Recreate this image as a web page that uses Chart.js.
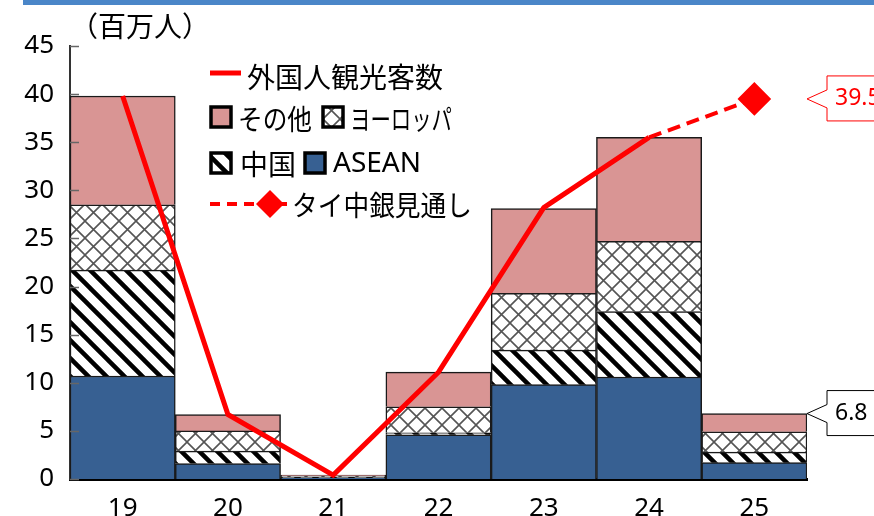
<!DOCTYPE html>
<html lang="ja">
<head>
<meta charset="UTF-8">
<title>タイ 外国人観光客数</title>
<style>
  body { margin: 0; background: #fff; }
  #wrap { width: 874px; height: 516px; }
</style>
</head>
<body>
<div id="wrap"><canvas id="myChart" width="874" height="516"></canvas></div>
<script src="https://cdn.jsdelivr.net/npm/chart.js"></script>
<script>
// 年（下2桁）
const years = ['19', '20', '21', '22', '23', '24', '25'];
// 国・地域別の内訳（百万人）
const asean  = [10.7, 1.6, 0.15, 4.6, 9.8, 10.6, 1.7];
const china  = [11.0, 1.3, 0.05, 0.2, 3.6, 6.8, 1.1];
const europe = [6.8, 2.1, 0.1, 2.7, 5.9, 7.3, 2.1];
const others = [11.3, 1.7, 0.1, 3.6, 8.8, 10.8, 1.9];
// 外国人観光客数（実績）
const arrivals = [39.8, 6.7, 0.4, 11.1, 28.2, 35.5, null];
// タイ中銀見通し
const forecast = [null, null, null, null, null, 35.5, 39.5];
// 縦軸の目盛り
const yTicks = [0, 5, 10, 15, 20, 25, 30, 35, 40, 45];

const RED = '#ff0000';
const BLUE = '#376092';
const PINK = '#d99594';
const JP = '"Noto Sans CJK JP", sans-serif';
const NUM = '"Noto Sans", sans-serif';

// 中国：右下がりの太い斜線
function stripePattern() {
    const s = 18;
    const c = document.createElement('canvas');
    c.width = s; c.height = s;
    const g = c.getContext('2d');
    g.fillStyle = '#fff';
    g.fillRect(0, 0, s, s);
    g.strokeStyle = '#000';
    g.lineWidth = 4.5;
    g.beginPath();
    for (let k = -1; k <= 1; k++) {
        g.moveTo(k * s - s, -s);
        g.lineTo(k * s + 2 * s, 2 * s);
    }
    g.stroke();
    return g.createPattern(c, 'repeat');
}

// ヨーロッパ：斜め格子
function crossPattern() {
    const s = 17;
    const c = document.createElement('canvas');
    c.width = s; c.height = s;
    const g = c.getContext('2d');
    g.fillStyle = '#fff';
    g.fillRect(0, 0, s, s);
    g.strokeStyle = '#555';
    g.lineWidth = 1.6;
    g.beginPath();
    g.moveTo(0, 0); g.lineTo(s, s);
    g.moveTo(s, 0); g.lineTo(0, s);
    g.stroke();
    return g.createPattern(c, 'repeat');
}

const chinaFill = stripePattern();
const europeFill = crossPattern();

function swatch(ctx, x, y, fill) {
    ctx.fillStyle = fill;
    ctx.fillRect(x, y, 20, 20);
    ctx.strokeStyle = '#000';
    ctx.lineWidth = 3.5;
    ctx.strokeRect(x, y, 20, 20);
}

function callout(ctx, yv, text, color) {
    const tip = 807, left = 827;
    ctx.beginPath();
    ctx.moveTo(tip, yv);
    ctx.lineTo(left, yv - 9);
    ctx.lineTo(left, yv - 23);
    ctx.lineTo(880, yv - 23);
    ctx.lineTo(880, yv + 22);
    ctx.lineTo(left, yv + 22);
    ctx.lineTo(left, yv + 9);
    ctx.closePath();
    ctx.fillStyle = '#fff';
    ctx.fill();
    ctx.strokeStyle = color;
    ctx.lineWidth = 1;
    ctx.stroke();
    ctx.fillStyle = color;
    ctx.font = '23px ' + NUM;
    ctx.textAlign = 'left';
    ctx.textBaseline = 'middle';
    ctx.fillText(text, 835, yv);
}

const extras = {
    id: 'extras',
    beforeDraw(chart) {
        const ctx = chart.ctx;
        ctx.save();
        ctx.fillStyle = '#4a86c8';
        ctx.fillRect(23, 0, 851, 5);
        ctx.fillStyle = '#000';
        ctx.font = '28px ' + JP;
        ctx.textBaseline = 'middle';
        ctx.fillText('（百万人）', 70, 26);
        ctx.restore();
    },
    afterDraw(chart) {
        const ctx = chart.ctx;
        const y = chart.scales.y;
        const left = chart.chartArea.left;
        ctx.save();
        // 内向きの目盛り
        ctx.strokeStyle = '#666';
        ctx.lineWidth = 1.5;
        yTicks.forEach(v => {
            const py = Math.round(y.getPixelForValue(v)) + 0.5;
            ctx.beginPath();
            ctx.moveTo(left, py);
            ctx.lineTo(left + 9, py);
            ctx.stroke();
        });

        // 凡例
        ctx.font = '28px ' + JP;
        ctx.textBaseline = 'middle';
        ctx.textAlign = 'left';
        ctx.strokeStyle = RED;
        ctx.lineWidth = 5;
        ctx.beginPath();
        ctx.moveTo(210, 73); ctx.lineTo(241, 73);
        ctx.stroke();
        ctx.fillStyle = '#000';
        ctx.fillText('外国人観光客数', 247, 77, 202);

        swatch(ctx, 211, 107, PINK);
        ctx.fillStyle = '#000';
        ctx.fillText('その他', 238, 119, 74);
        swatch(ctx, 323, 107, europeFill);
        ctx.fillStyle = '#000';
        ctx.fillText('ヨーロッパ', 350, 119, 102);

        swatch(ctx, 211, 153, chinaFill);
        ctx.fillStyle = '#000';
        ctx.fillText('中国', 240, 164);
        swatch(ctx, 305, 153, BLUE);
        ctx.fillStyle = '#000';
        ctx.font = '28px ' + NUM;
        ctx.fillText('ASEAN', 333, 164, 96);

        ctx.strokeStyle = RED;
        ctx.lineWidth = 4;
        ctx.setLineDash([10, 7]);
        ctx.beginPath();
        ctx.moveTo(210, 204); ctx.lineTo(287, 204);
        ctx.stroke();
        ctx.setLineDash([]);
        ctx.fillStyle = RED;
        ctx.beginPath();
        ctx.moveTo(270, 190); ctx.lineTo(284, 204); ctx.lineTo(270, 218); ctx.lineTo(256, 204);
        ctx.closePath();
        ctx.fill();
        ctx.fillStyle = '#000';
        ctx.font = '28px ' + JP;
        ctx.fillText('タイ中銀見通し', 292, 205, 180);

        // 吹き出し
        const last = years.length - 1;
        const total = asean[last] + china[last] + europe[last] + others[last];
        callout(ctx, y.getPixelForValue(forecast[last]), forecast[last].toFixed(1), RED);
        callout(ctx, y.getPixelForValue(total), total.toFixed(1), '#000');
        ctx.restore();
    }
};

const barStyle = {
    type: 'bar',
    stack: 'bars',
    order: 2,
    borderColor: '#1a1a1a',
    borderWidth: 1.5,
    barPercentage: 1,
    categoryPercentage: 1
};

new Chart(document.getElementById('myChart'), {
    data: {
        labels: years,
        datasets: [
            { ...barStyle, label: 'ASEAN', data: asean, backgroundColor: BLUE },
            { ...barStyle, label: '中国', data: china, backgroundColor: chinaFill },
            { ...barStyle, label: 'ヨーロッパ', data: europe, backgroundColor: europeFill },
            { ...barStyle, label: 'その他', data: others, backgroundColor: PINK },
            {
                type: 'line', label: '外国人観光客数', data: arrivals, stack: 'l1', order: 1,
                borderColor: RED, borderWidth: 5, pointRadius: 0, tension: 0
            },
            {
                type: 'line', label: 'タイ中銀見通し', data: forecast, stack: 'l2', order: 1,
                borderColor: RED, borderWidth: 4, borderDash: [13, 7], tension: 0,
                pointRadius: forecast.map((v, i) => i === forecast.length - 1 ? 14 : 0),
                pointStyle: 'rectRot', pointBackgroundColor: RED, pointBorderColor: RED
            }
        ]
    },
    options: {
        responsive: false,
        animation: false,
        layout: { padding: { top: 46, right: 67, left: 0, bottom: 0 } },
        plugins: { legend: { display: false }, tooltip: { enabled: false } },
        scales: {
            x: {
                stacked: true,
                grid: { display: false, drawTicks: false },
                border: { color: '#000', width: 3 },
                ticks: { color: '#000', font: { family: NUM, size: 26 }, padding: 14 },
                afterFit(s) { s.height = 37; }
            },
            y: {
                stacked: true,
                min: 0,
                max: 45,
                grid: { display: false, drawTicks: false },
                border: { color: '#333', width: 2 },
                afterBuildTicks(s) { s.ticks = yTicks.map(v => ({ value: v })); },
                ticks: { color: '#000', font: { family: NUM, size: 26 }, padding: 16 },
                afterFit(s) { s.width = 70; }
            }
        }
    },
    plugins: [extras]
});
</script>
</body>
</html>
